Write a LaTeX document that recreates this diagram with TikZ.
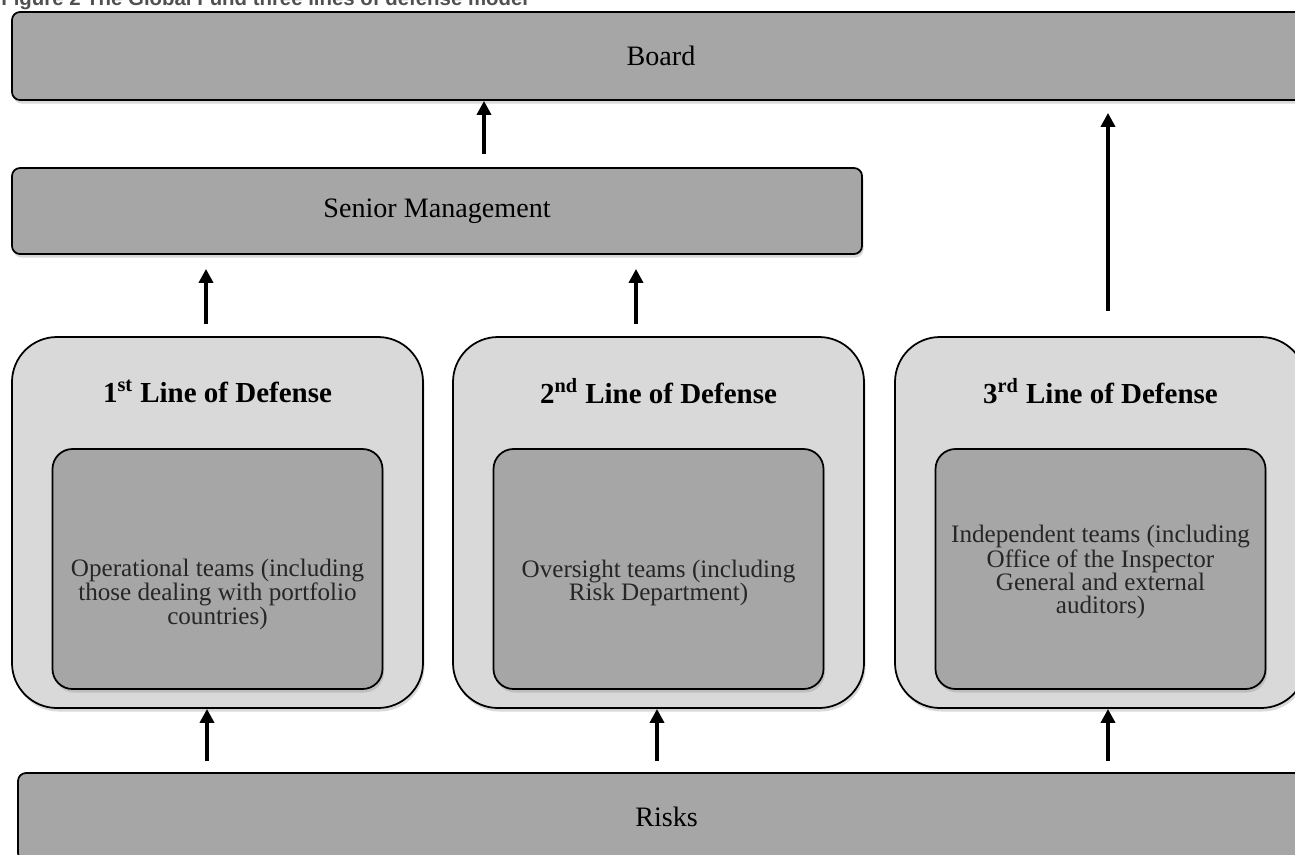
\documentclass[tikz,border=0pt]{standalone}
\usepackage{fontspec}
\setmainfont{Liberation Serif}
\newfontfamily\captionfont{Liberation Sans}
\usepackage{xcolor}
\usetikzlibrary{positioning, arrows.meta, shadows}
\definecolor{BoxDark}{RGB}{166,166,166}
\definecolor{BoxLight}{RGB}{217,217,217}
\definecolor{CaptionGray}{RGB}{80,80,80}
\tikzset{
    barnode/.style={
        draw, line width=1pt, fill=BoxDark, rounded corners=0.16cm,
        minimum height=1.76cm, font=\fontsize{16}{19}\selectfont,
        drop shadow={shadow xshift=0.03cm, shadow yshift=-0.07cm, opacity=0.3}
    },
    linenode/.style={
        draw, line width=1pt, fill=BoxLight, rounded corners=0.9cm,
        minimum width=8.22cm, minimum height=7.42cm,
        drop shadow={shadow xshift=0.03cm, shadow yshift=-0.07cm, opacity=0.3}
    },
    teamnode/.style={
        draw, line width=1pt, fill=BoxDark, rounded corners=0.4cm,
        minimum width=6.6cm, minimum height=4.8cm,
        drop shadow={shadow xshift=0.03cm, shadow yshift=-0.07cm, opacity=0.3}
    },
    titlelabel/.style={
        font=\bfseries\fontsize{16.5}{20}\selectfont
    },
    teamlabel/.style={
        align=center, font=\fontsize{14.3}{13.1}\selectfont, text=black!85
    },
    uparrow/.style={
        -{Triangle[length=8pt,width=8pt]}, line width=2.2pt
    }
}

\begin{document}
\begin{tikzpicture}
    \useasboundingbox (0,0) rectangle (25.9,-17.08);
    \clip (0,0) rectangle (25.9,-17.08);

    % caption, cut at the top
    \node[anchor=base west, inner sep=0pt, text=CaptionGray,
          font=\captionfont\bfseries\fontsize{11.6}{13}\selectfont] (caption) at (0.02,-0.1)
        {Figure 2 The Global Fund three lines of defense model};

    % bars
    \node[barnode, minimum width=25.96cm] (board) at (13.22,-1.12) {Board};
    \node[barnode, minimum width=17cm, minimum height=1.72cm] (sm) at (8.74,-4.22) {Senior Management};
    \node[barnode, minimum width=25.94cm] (risks) at (13.33,-16.34) {Risks};

    % lines of defense
    \node[linenode] (l1) at (4.35,-10.45) {};
    \node[linenode] (l2) at (13.17,-10.45) {};
    \node[linenode] (l3) at (22.01,-10.45) {};

    \node[titlelabel] (h1) at ([yshift=-1.1cm]l1.north) {1\textsuperscript{st} Line of Defense};
    \node[titlelabel] (h2) at ([yshift=-1.1cm]l2.north) {2\textsuperscript{nd} Line of Defense};
    \node[titlelabel] (h3) at ([yshift=-1.1cm]l3.north) {3\textsuperscript{rd} Line of Defense};

    \node[teamnode] (t1) at ([yshift=-0.93cm]l1.center) {};
    \node[teamnode] (t2) at ([yshift=-0.93cm]l2.center) {};
    \node[teamnode] (t3) at ([yshift=-0.93cm]l3.center) {};

    \node[teamlabel] (t1text) at ([yshift=-0.5cm]t1.center)
        {Operational teams (including\\those dealing with portfolio\\countries)};
    \node[teamlabel] (t2text) at ([yshift=-0.28cm]t2.center)
        {Oversight teams (including\\Risk Department)};
    \node[teamlabel] (t3text) at ([yshift=-0.06cm]t3.center)
        {Independent teams (including\\Office of the Inspector\\General and external\\auditors)};

    % arrows up
    \draw[uparrow, shorten <=0.26cm] ([xshift=0.94cm]sm.north) -- ([xshift=0.94cm]sm.north |- board.south);
    \draw[uparrow, shorten <=0.24cm, shorten >=0.28cm] ([xshift=-0.23cm]l1.north) -- ([xshift=-0.23cm]l1.north |- sm.south);
    \draw[uparrow, shorten <=0.24cm, shorten >=0.28cm] ([xshift=-0.45cm]l2.north) -- ([xshift=-0.45cm]l2.north |- sm.south);
    \draw[uparrow, shorten <=0.5cm, shorten >=0.24cm] ([xshift=0.15cm]l3.north) -- ([xshift=0.15cm]l3.north |- board.south);
    \foreach \lname/\dx in {l1/-0.21, l2/-0.03, l3/0.15}
        \draw[uparrow, shorten <=0.22cm] ([xshift=\dx cm]\lname.south |- risks.north) -- ([xshift=\dx cm]\lname.south);
\end{tikzpicture}
\end{document}
